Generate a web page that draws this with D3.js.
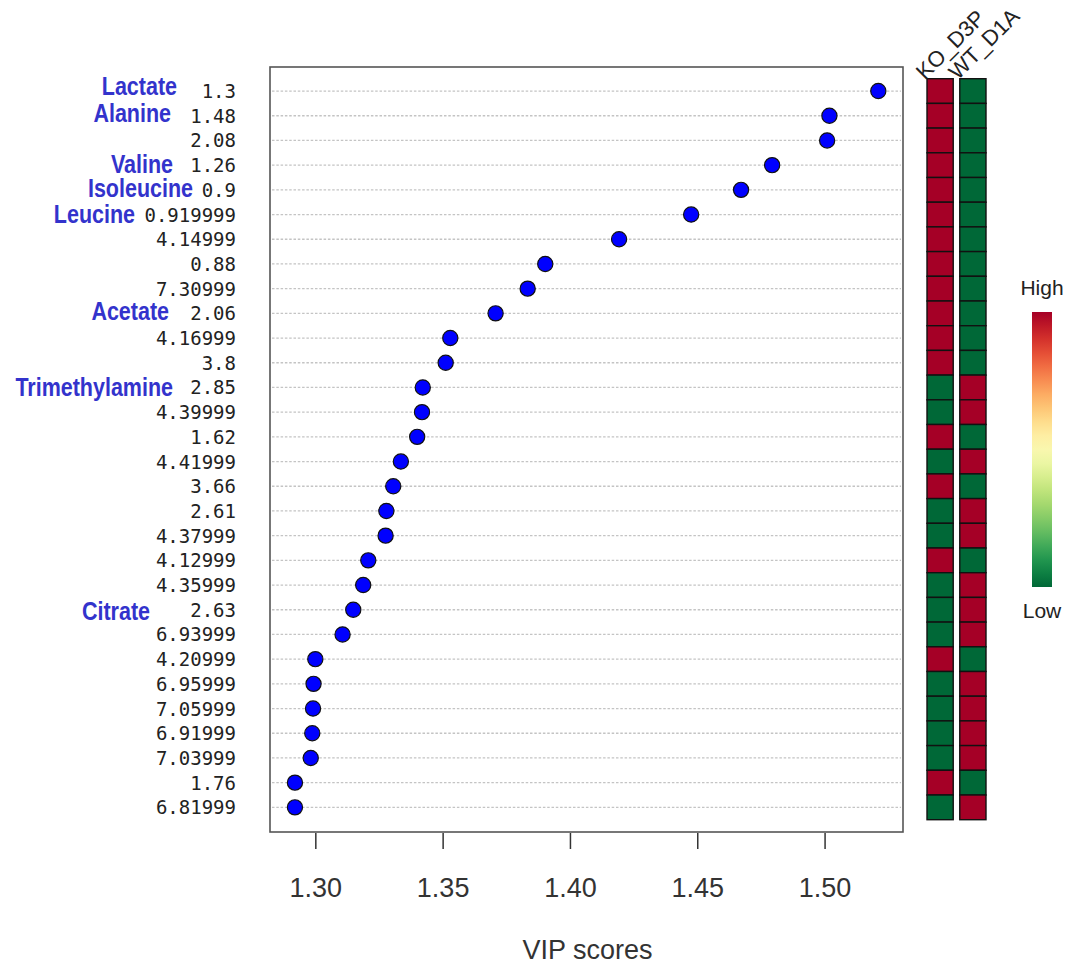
<!DOCTYPE html>
<html>
<head>
<meta charset="utf-8">
<script src="https://cdn.jsdelivr.net/npm/d3@7"></script>
<style>
  html, body { margin: 0; padding: 0; background: #fff; }
  svg { display: block; }
</style>
</head>
<body>
<svg id="chart" width="1067" height="966"></svg>
<script>
// Features (chemical shift bins, ppm), ordered by VIP score
const features = ["1.3", "1.48", "2.08", "1.26", "0.9", "0.919999", "4.14999", "0.88",
  "7.30999", "2.06", "4.16999", "3.8", "2.85", "4.39999", "1.62", "4.41999", "3.66",
  "2.61", "4.37999", "4.12999", "4.35999", "2.63", "6.93999", "4.20999", "6.95999",
  "7.05999", "6.91999", "7.03999", "1.76", "6.81999"];

const vipScores = [1.5211, 1.5019, 1.5010, 1.4794, 1.4672, 1.4476, 1.4193, 1.3903,
  1.3834, 1.3708, 1.3530, 1.3512, 1.3422, 1.3419, 1.3400, 1.3336, 1.3306, 1.3279,
  1.3276, 1.3208, 1.3188, 1.3149, 1.3107, 1.3000, 1.2993, 1.2991, 1.2988, 1.2982,
  1.2920, 1.2920];

// Relative concentration per group (1 = high, 0 = low)
const groups = ["KO_D3P", "WT_D1A"];
const koD3P = [1,1,1,1,1,1,1,1,1,1,1,1,0,0,1,0,1,0,0,1,0,0,0,1,0,0,0,0,1,0];
const wtD1A = [0,0,0,0,0,0,0,0,0,0,0,0,1,1,0,1,0,1,1,0,1,1,1,0,1,1,1,1,0,1];

const xTicks = [1.30, 1.35, 1.40, 1.45, 1.50];

// Metabolite assignments for selected bins
const metaboliteNames = ["Lactate", "Alanine", "Valine", "Isoleucine", "Leucine", "Acetate", "Trimethylamine", "Citrate"];
const metaboliteBins = ["1.3", "1.48", "1.26", "0.9", "0.919999", "2.06", "2.85", "2.63"];
// label placement: right edge (px) and baseline shift from row centre
const metaboliteRight = [177, 171, 173, 193, 135, 169, 173, 150];
const metaboliteDy = [4, 6, 8, 7, 8, 7, 9, 10];

const svg = d3.select("#chart");

const plot = { left: 270, right: 903, top: 67, bottom: 832 };
const rowsTop = 78.7, rowsBottom = 819.7;

const x = d3.scaleLinear().domain([1.2822, 1.5308]).range([plot.left, plot.right]);
const y = d3.scaleBand().domain(features).range([rowsTop, rowsBottom]).padding(0);
const yc = f => y(f) + y.bandwidth() / 2;

// dotted guide lines
svg.append("g").selectAll("line").data(features).join("line")
  .attr("x1", plot.left + 2).attr("x2", plot.right - 2)
  .attr("y1", yc).attr("y2", yc)
  .attr("stroke", "#c4c4c4").attr("stroke-width", 1.3)
  .attr("stroke-dasharray", "2.5,1.8");

// plot frame
svg.append("rect")
  .attr("x", plot.left).attr("y", plot.top)
  .attr("width", plot.right - plot.left).attr("height", plot.bottom - plot.top)
  .attr("fill", "none").attr("stroke", "#555").attr("stroke-width", 1.6);

// points
svg.append("g").selectAll("circle").data(features).join("circle")
  .attr("cx", (f, i) => x(vipScores[i]))
  .attr("cy", yc)
  .attr("r", 7.6)
  .attr("fill", "#0000ff")
  .attr("stroke", "#111").attr("stroke-width", 1.2);

// x axis
const xAxis = svg.append("g")
  .attr("transform", `translate(0,${plot.bottom + 1})`)
  .call(d3.axisBottom(x).tickValues(xTicks).tickFormat(d3.format(".2f"))
    .tickSize(16).tickPadding(29));
xAxis.select(".domain").remove();
xAxis.selectAll(".tick line").attr("stroke", "#333").attr("stroke-width", 1.5);
xAxis.selectAll(".tick text")
  .attr("fill", "#333")
  .style("font-family", "'Liberation Sans', Arial, sans-serif")
  .style("font-size", "27px");

svg.append("text")
  .attr("x", (plot.left + plot.right) / 2 + 1).attr("y", 959)
  .attr("text-anchor", "middle")
  .attr("fill", "#333")
  .style("font-family", "'Liberation Sans', Arial, sans-serif")
  .style("font-size", "27px")
  .text("VIP scores");

// feature labels
svg.append("g").selectAll("text").data(features).join("text")
  .attr("x", 236).attr("y", f => yc(f) + 7)
  .attr("text-anchor", "end")
  .attr("fill", "#222")
  .style("font-family", "'DejaVu Sans Mono', monospace")
  .style("font-size", "19px")
  .text(f => f);

// metabolite names
svg.append("g").selectAll("text").data(metaboliteNames).join("text")
  .attr("transform", (d, i) =>
    `translate(${metaboliteRight[i]},${yc(metaboliteBins[i]) + metaboliteDy[i]}) scale(0.86,1)`)
  .attr("text-anchor", "end")
  .attr("fill", "#3333cc")
  .style("font-family", "'Liberation Sans', Arial, sans-serif")
  .style("font-weight", "bold")
  .style("font-size", "25px")
  .text(d => d);

// group heatmap
const colX = d3.scaleBand().domain(groups).range([927, 986]).paddingInner(0.2).paddingOuter(0);
const levels = { "KO_D3P": koD3P, "WT_D1A": wtD1A };
const color = v => d3.interpolateRdYlGn(1 - v);

groups.forEach(g => {
  svg.append("g").selectAll("rect").data(features).join("rect")
    .attr("x", colX(g)).attr("y", f => y(f))
    .attr("width", colX.bandwidth()).attr("height", y.bandwidth())
    .attr("fill", (f, i) => color(levels[g][i]))
    .attr("stroke", "#111").attr("stroke-width", 1.4);
  svg.append("text")
    .attr("transform", `translate(${colX(g) - 2},${rowsTop + 2}) rotate(-45)`)
    .attr("fill", "#222")
    .style("font-family", "'Liberation Sans', Arial, sans-serif")
    .style("font-size", "22px")
    .text(g);
});

// colour key
const defs = svg.append("defs");
const grad = defs.append("linearGradient").attr("id", "key")
  .attr("x1", 0).attr("y1", 0).attr("x2", 0).attr("y2", 1);
d3.range(0, 1.0001, 0.05).forEach(t => {
  grad.append("stop").attr("offset", t).attr("stop-color", color(1 - t));
});
const key = { x: 1032, y: 312, w: 20, h: 275 };
svg.append("rect")
  .attr("x", key.x).attr("y", key.y).attr("width", key.w).attr("height", key.h)
  .attr("fill", "url(#key)");
svg.append("text")
  .attr("x", key.x + key.w / 2).attr("y", 295)
  .attr("text-anchor", "middle").attr("fill", "#222")
  .style("font-family", "'Liberation Sans', Arial, sans-serif").style("font-size", "21px")
  .text("High");
svg.append("text")
  .attr("x", key.x + key.w / 2).attr("y", 618)
  .attr("text-anchor", "middle").attr("fill", "#222")
  .style("font-family", "'Liberation Sans', Arial, sans-serif").style("font-size", "21px")
  .text("Low");
</script>
</body>
</html>
